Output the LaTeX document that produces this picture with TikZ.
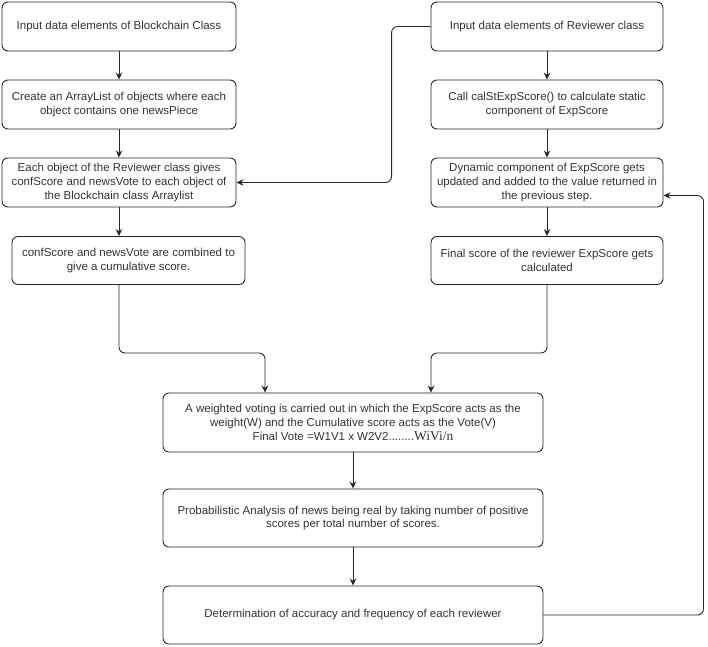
\documentclass[tikz,border=0pt]{standalone}
\usepackage{fontspec}
\setmainfont{Liberation Sans}
\newfontfamily\formfont{Liberation Serif}
\usetikzlibrary{arrows.meta, positioning}

\definecolor{linegray}{HTML}{262626}
\definecolor{textgray}{HTML}{333333}

\begin{document}
\begin{tikzpicture}[%
    x=1pt, y=1pt,
    >={Stealth[length=7pt,width=6.5pt]},
    node distance=78pt,
    on grid,
    line width=0.9pt,
    draw=linegray,
    stepbox/.style={draw=linegray, rounded corners=6pt, align=center,
      text=textgray, inner sep=2pt,
      font=\fontsize{11.5}{13.6}\selectfont},
    leftbox/.style={stepbox, minimum width=234pt, minimum height=49pt},
    rightbox/.style={stepbox, minimum width=232pt, minimum height=49pt},
    widebox/.style={stepbox, minimum width=380pt, minimum height=58pt},
    flow/.style={->, draw=linegray, rounded corners=6pt}
  ]
  \useasboundingbox (0,0) rectangle (708,-646);

  % left column
  \node[leftbox] (inBlock) at (119,-26.5) {Input data elements of Blockchain Class};
  \node[leftbox] (mkList) [below=of inBlock] {Create an ArrayList of objects where each\\object contains one newsPiece};
  \node[leftbox] (giveVote) [below=of mkList] {Each object of the Reviewer class gives\\confScore and newsVote to each object of\\the Blockchain class Arraylist};
  \node[leftbox, minimum width=233pt, minimum height=48pt] (combine) [below=of giveVote, xshift=9.5pt] {confScore and newsVote are combined to\\give a cumulative score.};

  % right column
  \node[rightbox] (inRev) at (547,-26.5) {Input data elements of Reviewer class};
  \node[rightbox] (statExp) [below=of inRev] {Call calStExpScore() to calculate static\\component of ExpScore};
  \node[rightbox] (dynExp) [below=of statExp] {Dynamic component of ExpScore gets\\updated and added to the value returned in\\the previous step.};
  \node[rightbox, minimum height=48pt] (finExp) [below=of dynExp] {Final score of the reviewer ExpScore gets\\calculated};

  % bottom
  \node[widebox, minimum height=59pt, font=\fontsize{11.5}{14.2}\selectfont] (wVote) at (353,-422.5) {A weighted voting is carried out in which the ExpScore acts as the\\weight(W) and the Cumulative score acts as the Vote(V)\\Final Vote =W1V1 x W2V2........{\formfont\fontsize{13.5}{14.2}\selectfont WiVi/n}};
  \node[widebox] (prob) [node distance=95.5pt, below=of wVote] {Probabilistic Analysis of news being real by taking number of positive\\scores per total number of scores.};
  \node[widebox] (accur) [node distance=97pt, below=of prob] {Determination of accuracy and frequency of each reviewer};

  \draw[flow] (inBlock) -- (mkList);
  \draw[flow] (mkList) -- (giveVote);
  \draw[flow] (giveVote.south -| inBlock) -- (combine.north -| inBlock);
  \draw[flow] (inRev) -- (statExp);
  \draw[flow] (statExp) -- (dynExp);
  \draw[flow] (dynExp) -- (finExp);
  \draw[flow] (inRev.west) -- ++(-39pt,0) |- (giveVote.east);
  \draw[flow] (combine.south -| inBlock) -- ++(0,-68pt) -| ([xshift=-88pt]wVote.north);
  \draw[flow] (finExp.south) -- ++(0,-68pt) -| ([xshift=78pt]wVote.north);
  \draw[flow] (wVote) -- (prob);
  \draw[flow] (prob) -- (accur);
  \draw[flow] (accur.east) -- ++(160pt,0) |- ([yshift=-13pt]dynExp.east);
\end{tikzpicture}
\end{document}
